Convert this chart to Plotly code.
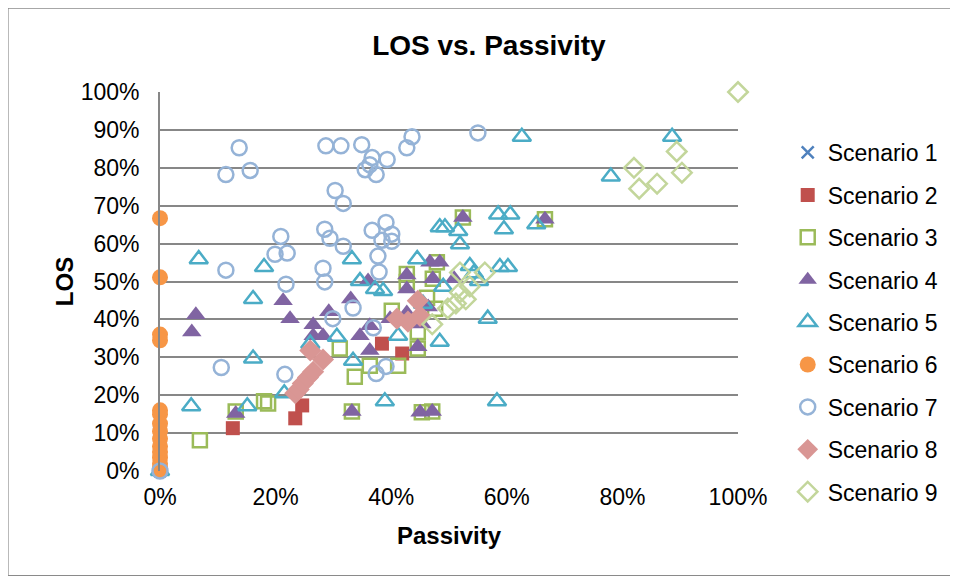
import plotly.graph_objects as go

# ---------------- data (fractions, shown as %) ----------------
s1_x = [0.0]
s1_y = [0.0]

s2_x = [0.126, 0.234, 0.246, 0.384, 0.419]
s2_y = [0.113, 0.139, 0.173, 0.336, 0.310]

s3_x = [0.069, 0.131, 0.180, 0.187, 0.311, 0.337, 0.363, 0.412, 0.446, 0.332, 0.453,
        0.471, 0.427, 0.427, 0.479, 0.472, 0.462, 0.401, 0.476, 0.446, 0.524, 0.666]
s3_y = [0.081, 0.157, 0.184, 0.178, 0.323, 0.249, 0.278, 0.278, 0.323, 0.157, 0.155,
        0.157, 0.520, 0.499, 0.551, 0.507, 0.457, 0.423, 0.428, 0.367, 0.669, 0.664]

s4_x = [0.062, 0.055, 0.213, 0.225, 0.265, 0.292, 0.265, 0.282, 0.524, 0.467, 0.484,
        0.472, 0.509, 0.427, 0.427, 0.360, 0.330, 0.464, 0.398, 0.427, 0.346, 0.363,
        0.453, 0.446, 0.332, 0.450, 0.471, 0.363, 0.131, 0.666]
s4_y = [0.412, 0.367, 0.449, 0.402, 0.386, 0.420, 0.357, 0.357, 0.669, 0.551, 0.551,
        0.507, 0.507, 0.517, 0.480, 0.501, 0.454, 0.433, 0.402, 0.417, 0.357, 0.383,
        0.388, 0.328, 0.157, 0.155, 0.157, 0.318, 0.152, 0.664]

s5_x = [0.626, 0.886, 0.780, 0.067, 0.180, 0.161, 0.054, 0.151, 0.161, 0.215, 0.260,
        0.306, 0.585, 0.606, 0.484, 0.493, 0.516, 0.595, 0.519, 0.332, 0.445, 0.536,
        0.588, 0.602, 0.543, 0.552, 0.346, 0.372, 0.386, 0.490, 0.567, 0.412, 0.484,
        0.389, 0.583, 0.334, 0.455, 0.651, 0.0]
s5_y = [0.882, 0.882, 0.777, 0.559, 0.538, 0.454, 0.171, 0.171, 0.297, 0.205, 0.336,
        0.354, 0.677, 0.677, 0.643, 0.643, 0.633, 0.638, 0.598, 0.559, 0.559, 0.541,
        0.538, 0.538, 0.522, 0.501, 0.501, 0.480, 0.475, 0.486, 0.402, 0.357, 0.341,
        0.184, 0.184, 0.291, 0.441, 0.651, 0.0]

s6_x = [0.0] * 15
s6_y = [0.667, 0.511, 0.360, 0.345, 0.160, 0.150, 0.125, 0.105, 0.085, 0.065,
        0.050, 0.035, 0.020, 0.010, 0.0]

s7_x = [0.137, 0.114, 0.156, 0.287, 0.313, 0.349, 0.367, 0.363, 0.355, 0.374, 0.393,
        0.427, 0.436, 0.550, 0.303, 0.317, 0.209, 0.199, 0.220, 0.114, 0.218, 0.285,
        0.294, 0.317, 0.367, 0.391, 0.384, 0.401, 0.401, 0.377, 0.379, 0.282, 0.285,
        0.334, 0.299, 0.369, 0.106, 0.216, 0.374, 0.391, 0.0]
s7_y = [0.853, 0.782, 0.793, 0.858, 0.858, 0.861, 0.827, 0.808, 0.795, 0.782, 0.822,
        0.853, 0.882, 0.892, 0.740, 0.706, 0.619, 0.572, 0.575, 0.530, 0.493, 0.638,
        0.614, 0.593, 0.635, 0.656, 0.609, 0.606, 0.625, 0.567, 0.525, 0.535, 0.499,
        0.430, 0.402, 0.378, 0.273, 0.255, 0.257, 0.276, 0.0]

s8_x = [0.234, 0.240, 0.247, 0.256, 0.265, 0.282, 0.260, 0.410, 0.429, 0.450, 0.446]
s8_y = [0.205, 0.215, 0.231, 0.247, 0.262, 0.294, 0.318, 0.402, 0.394, 0.409, 0.449]

s9_x = [1.0, 0.894, 0.903, 0.820, 0.829, 0.860, 0.519, 0.562, 0.536, 0.519, 0.529,
        0.512, 0.498, 0.471]
s9_y = [1.0, 0.843, 0.787, 0.800, 0.745, 0.758, 0.524, 0.524, 0.487, 0.471, 0.453,
        0.442, 0.429, 0.387]

names = ["Scenario 1", "Scenario 2", "Scenario 3", "Scenario 4", "Scenario 5",
         "Scenario 6", "Scenario 7", "Scenario 8", "Scenario 9"]
xs = [s1_x, s2_x, s3_x, s4_x, s5_x, s6_x, s7_x, s8_x, s9_x]
ys = [s1_y, s2_y, s3_y, s4_y, s5_y, s6_y, s7_y, s8_y, s9_y]

styles = [
    dict(symbol="x-thin", size=12, color="#4F81BD", line=dict(color="#4F81BD", width=2.5)),
    dict(symbol="square", size=14, color="#C0504D"),
    dict(symbol="square-open", size=14, color="#9BBB59", line=dict(color="#9BBB59", width=2.5)),
    dict(symbol="triangle-up", size=17, color="#8064A2"),
    dict(symbol="triangle-up-open", size=16, color="#4BACC6", line=dict(color="#4BACC6", width=2.5)),
    dict(symbol="circle", size=16, color="#F79646"),
    dict(symbol="circle-open", size=15, color="#95B3D7", line=dict(color="#95B3D7", width=2.5)),
    dict(symbol="diamond", size=17, color="#D99694"),
    dict(symbol="diamond-open", size=15, color="#C3D69B", line=dict(color="#C3D69B", width=2.5)),
]

FONT = "Arial, Liberation Sans, sans-serif"

fig = go.Figure()
for i, (n, x, y, st) in enumerate(zip(names, xs, ys, styles)):
    fig.add_trace(go.Scatter(
        x=x, y=y, mode="markers", name=n, marker=st,
        cliponaxis=False, legendgroup="g%d" % i,
    ))

grid_col = "#878787"
W, H = 950, 570
L, T = 152, 84
PW, PH = 578, 379.4
fig.update_layout(
    width=W, height=H,
    margin=dict(l=L, r=W - L - PW, t=T, b=H - T - PH, pad=0),
    paper_bgcolor="white", plot_bgcolor="white",
    font=dict(family=FONT, size=23, color="black"),
    title=dict(text="<b>LOS vs. Passivity</b>", font=dict(size=28, family=FONT, color="black"),
               x=0.569, xref="paper", xanchor="center",
               y=1 - 37 / H, yref="container", yanchor="middle"),
    showlegend=True,
    legend=dict(x=1.086, xanchor="left", y=0.897, yanchor="top",
                font=dict(size=23, family=FONT), tracegroupgap=9.5,
                traceorder="grouped", bgcolor="rgba(0,0,0,0)", itemsizing="trace",
                maxheight=800),
    xaxis=dict(range=[0, 1], dtick=0.2, tickformat=".0%", showgrid=False,
               zeroline=False, showline=False, ticks="",
               ticklabelstandoff=10,
               title=dict(text="<b>Passivity</b>", font=dict(size=24, family=FONT), standoff=18)),
    yaxis=dict(range=[0, 1], dtick=0.1, tickformat=".0%", showgrid=True,
               gridcolor=grid_col, gridwidth=1.8, zeroline=False,
               showline=True, linecolor=grid_col, linewidth=1.8, ticks="",
               ticklabelstandoff=14,
               title=dict(text="<b>LOS</b>", font=dict(size=24, family=FONT), standoff=0)),
)

# outer chart border
fig.add_shape(type="rect", xref="paper", yref="paper",
              x0=(0 - 152) / PW, x1=(943 - 152) / PW,
              y0=(PH - 568 + T) / PH, y1=(PH + T) / PH,
              line=dict(color="#8a8a8a", width=1.2), layer="below")

fig.write_html("out.html")
